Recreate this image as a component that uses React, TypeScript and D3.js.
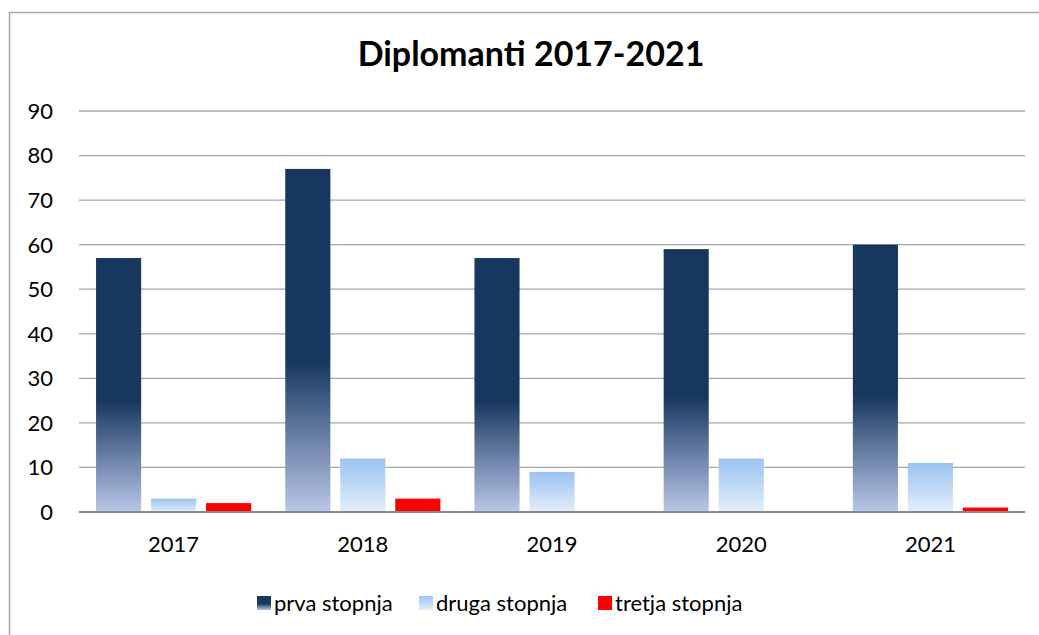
import React, { useEffect, useRef } from 'react';
import * as d3 from 'd3';

// chart data
const years = ['2017', '2018', '2019', '2020', '2021'];
const seriesNames = ['prva stopnja', 'druga stopnja', 'tretja stopnja'];
const prvaStopnja = [57, 77, 57, 59, 60];
const drugaStopnja = [3, 12, 9, 12, 11];
const tretjaStopnja = [2, 3, 0, 0, 1];
const yTicks = [0, 10, 20, 30, 40, 50, 60, 70, 80, 90];

const seriesValues = [prvaStopnja, drugaStopnja, tretjaStopnja];
const fills = ['url(#gradPrva)', 'url(#gradDruga)', '#ff0000'];

const FONT = 'Lato, "Noto Sans", sans-serif';

export default function App() {
  const ref = useRef<SVGSVGElement>(null);

  useEffect(() => {
    if (!ref.current) return;
    const width = 1039;
    const height = 635;
    const svg = d3.select(ref.current);
    svg.selectAll('*').remove();

    const defs = svg.append('defs');
    const g1 = defs.append('linearGradient').attr('id', 'gradPrva')
      .attr('x1', 0).attr('y1', 0).attr('x2', 0).attr('y2', 1);
    g1.append('stop').attr('offset', '0%').attr('stop-color', '#17375e');
    g1.append('stop').attr('offset', '56%').attr('stop-color', '#17375e');
    g1.append('stop').attr('offset', '100%').attr('stop-color', '#b9c7e9');
    const g2 = defs.append('linearGradient').attr('id', 'gradDruga')
      .attr('x1', 0).attr('y1', 0).attr('x2', 0).attr('y2', 1);
    g2.append('stop').attr('offset', '0%').attr('stop-color', '#9bc2f1');
    g2.append('stop').attr('offset', '100%').attr('stop-color', '#e3eefb');

    // background and outer border (right/bottom edges fall outside the picture)
    svg.append('rect').attr('width', width).attr('height', height).attr('fill', '#fff');
    svg.append('rect')
      .attr('x', 9.5).attr('y', 12.5)
      .attr('width', 1200).attr('height', 800)
      .attr('fill', 'none').attr('stroke', '#a6a6a6').attr('stroke-width', 1.5);

    const left = 79;
    const right = 1025;
    const top = 111;
    const bottom = 512;

    const y = d3.scaleLinear().domain([0, 90]).range([bottom, top]);
    const x0 = d3.scaleBand<string>().domain(years).range([left, right]);
    const x1 = d3.scaleBand<string>().domain(seriesNames)
      .range([0, x0.bandwidth()])
      .paddingInner(0.18).paddingOuter(0.31);

    // title
    svg.append('text')
      .attr('x', 531).attr('y', 66)
      .attr('text-anchor', 'middle')
      .attr('font-family', FONT)
      .attr('font-weight', 'bold')
      .attr('font-size', 34)
      .attr('fill', '#000')
      .text('Diplomanti 2017-2021');

    // gridlines
    svg.append('g')
      .selectAll('line')
      .data(yTicks.filter(d => d > 0))
      .enter()
      .append('line')
      .attr('x1', left).attr('x2', right)
      .attr('y1', d => y(d)).attr('y2', d => y(d))
      .attr('stroke', '#a6a6a6').attr('stroke-width', 1.3);

    // y tick labels
    svg.append('g')
      .selectAll('text')
      .data(yTicks)
      .enter()
      .append('text')
      .attr('x', 53)
      .attr('y', d => y(d))
      .attr('dy', '0.36em')
      .attr('text-anchor', 'end')
      .attr('font-family', FONT)
      .attr('font-size', 22)
      .attr('fill', '#000')
      .text(d => d);

    // bars
    const groups = svg.append('g')
      .selectAll('g')
      .data(years)
      .enter()
      .append('g')
      .attr('transform', d => `translate(${x0(d)},0)`);

    groups.selectAll('rect')
      .data((_, i) => seriesNames.map((name, s) => ({ name, s, value: seriesValues[s][i] })))
      .enter()
      .append('rect')
      .filter(d => d.value > 0)
      .attr('x', d => x1(d.name) as number)
      .attr('width', x1.bandwidth())
      .attr('y', d => y(d.value))
      .attr('height', d => y(0) - y(d.value))
      .attr('fill', d => fills[d.s]);

    // x axis line
    svg.append('line')
      .attr('x1', left).attr('x2', right)
      .attr('y1', y(0)).attr('y2', y(0))
      .attr('stroke', '#898989').attr('stroke-width', 2);

    // category labels
    svg.append('g')
      .selectAll('text')
      .data(years)
      .enter()
      .append('text')
      .attr('x', d => (x0(d) as number) + x0.bandwidth() / 2)
      .attr('y', 552)
      .attr('text-anchor', 'middle')
      .attr('font-family', FONT)
      .attr('font-size', 22)
      .attr('fill', '#000')
      .text(d => d);

    // legend
    const legendX = [257, 419, 598];
    const legend = svg.append('g');
    seriesNames.forEach((name, i) => {
      legend.append('rect')
        .attr('x', legendX[i]).attr('y', 596)
        .attr('width', 14).attr('height', 14)
        .attr('fill', fills[i]);
      legend.append('text')
        .attr('x', legendX[i] + 17).attr('y', 611)
        .attr('font-family', FONT)
        .attr('font-size', 22)
        .attr('fill', '#000')
        .text(name);
    });
  }, []);

  return (
    <div style={{ position: 'absolute', left: 0, top: 0 }}>
      <svg ref={ref} width={1039} height={635} style={{ display: 'block' }} />
    </div>
  );
}
